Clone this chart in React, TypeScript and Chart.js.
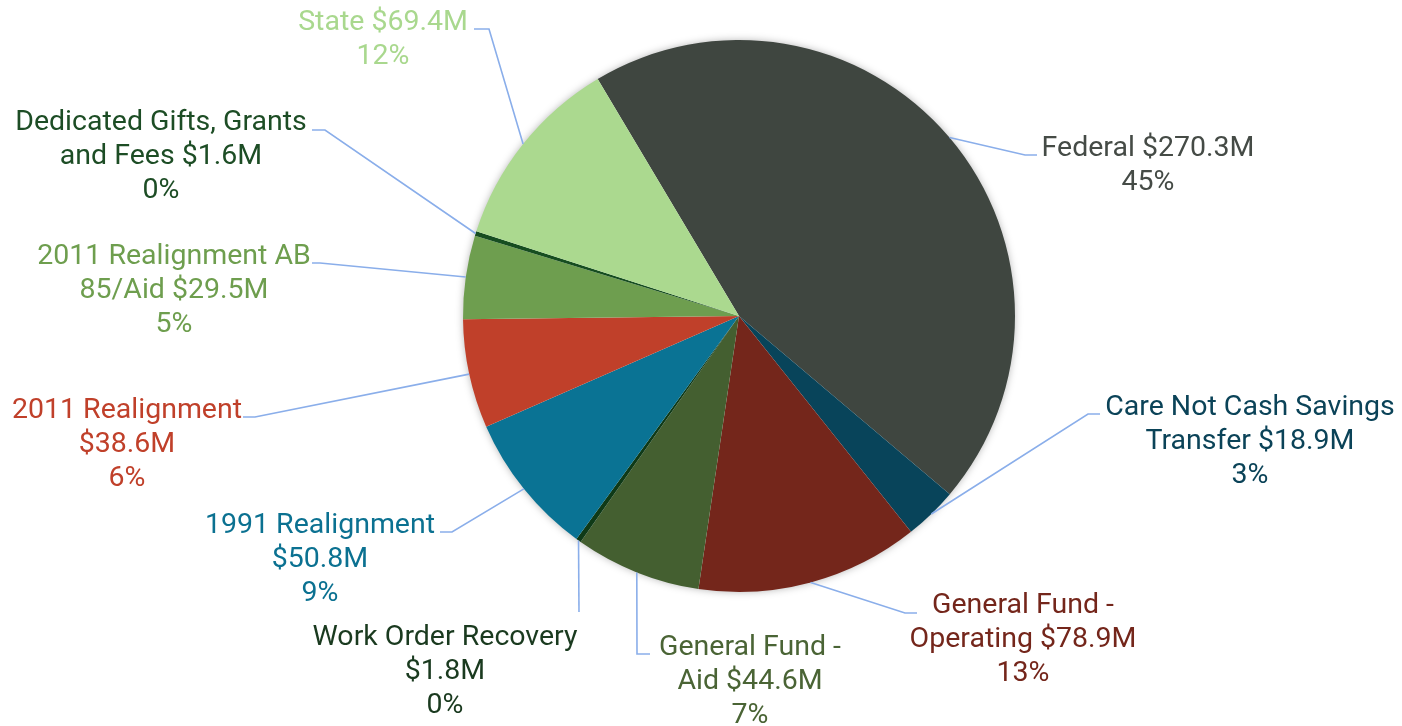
import React, { useEffect, useRef } from "react";
import { Chart, registerables } from "chart.js";

Chart.register(...registerables);

// ---- Data ----
const categories = [
  "Federal",
  "Care Not Cash Savings Transfer",
  "General Fund - Operating",
  "General Fund - Aid",
  "Work Order Recovery",
  "1991 Realignment",
  "2011 Realignment",
  "2011 Realignment AB 85/Aid",
  "Dedicated Gifts, Grants and Fees",
  "State",
];
const valuesM = [270.3, 18.9, 78.9, 44.6, 1.8, 50.8, 38.6, 29.5, 1.6, 69.4];
const percentLabels = ["45%", "3%", "13%", "7%", "0%", "9%", "6%", "5%", "0%", "12%"];
const labelLines = [
  ["Federal $270.3M"],
  ["Care Not Cash Savings", "Transfer $18.9M"],
  ["General Fund -", "Operating $78.9M"],
  ["General Fund -", "Aid $44.6M"],
  ["Work Order Recovery", "$1.8M"],
  ["1991 Realignment", "$50.8M"],
  ["2011 Realignment", "$38.6M"],
  ["2011 Realignment AB", "85/Aid $29.5M"],
  ["Dedicated Gifts, Grants", "and Fees $1.6M"],
  ["State $69.4M"],
];

// ---- Styles ----
const sliceColors = [
  "#3F4640",
  "#08445A",
  "#74261B",
  "#445F30",
  "#0F3A17",
  "#0A7394",
  "#C0402A",
  "#6E9E4F",
  "#164D20",
  "#ABD98F",
];
const textColors = [
  "#454B46",
  "#0B4358",
  "#74261B",
  "#4A6435",
  "#1A3A1F",
  "#0B7191",
  "#C0402A",
  "#6E9E4E",
  "#1D4D25",
  "#A9D88E",
];

// label layout: text center x, first-line center y, elbow point, line end (next to text)
const labelLayout = [
  { tx: 1148, ty: 149, elbow: [1025, 155], end: [1037, 155] },
  { tx: 1250, ty: 408, elbow: [1088, 414], end: [1100, 414] },
  { tx: 1023, ty: 606, elbow: [905, 613], end: [917, 613] },
  { tx: 750, ty: 648, elbow: [637, 654], end: [650, 654] },
  { tx: 445, ty: 638, elbow: [579, 612], end: [579, 612] },
  { tx: 320, ty: 526, elbow: [452, 532], end: [440, 532] },
  { tx: 127, ty: 411, elbow: [255, 417], end: [243, 417] },
  { tx: 174, ty: 257, elbow: [320, 263], end: [312, 263] },
  { tx: 161, ty: 123, elbow: [325, 130], end: [312, 130] },
  { tx: 383, ty: 23, elbow: [489, 29], end: [474, 29] },
];

const FONT = "28.5px Roboto";
const LINE_H = 34;
const LEADER = "#8AAEEA";

const pieLabelPlugin = {
  id: "pieLabels",
  beforeDatasetsDraw(chart: any) {
    const ctx = chart.ctx;
    const meta = chart.getDatasetMeta(0);
    if (!meta.data.length) return;
    const p = meta.data[0].getProps(["x", "y", "outerRadius"], true);
    ctx.save();
    ctx.shadowColor = "rgba(0,0,0,0.35)";
    ctx.shadowBlur = 9;
    ctx.fillStyle = "#ffffff";
    ctx.beginPath();
    ctx.arc(p.x, p.y, p.outerRadius - 1, 0, Math.PI * 2);
    ctx.fill();
    ctx.restore();
  },
  afterDatasetsDraw(chart: any) {
    const ctx = chart.ctx;
    const meta = chart.getDatasetMeta(0);
    meta.data.forEach((arc: any, i: number) => {
      const p = arc.getProps(["x", "y", "startAngle", "endAngle", "outerRadius"], true);
      const mid = (p.startAngle + p.endAngle) / 2;
      const ex = p.x + Math.cos(mid) * p.outerRadius;
      const ey = p.y + Math.sin(mid) * p.outerRadius;
      const L = labelLayout[i];
      ctx.save();
      ctx.strokeStyle = LEADER;
      ctx.lineWidth = 1.6;
      ctx.beginPath();
      ctx.moveTo(ex, ey);
      ctx.lineTo(L.elbow[0], L.elbow[1]);
      ctx.lineTo(L.end[0], L.end[1]);
      ctx.stroke();
      ctx.fillStyle = textColors[i];
      ctx.font = FONT;
      ctx.textAlign = "center";
      ctx.textBaseline = "middle";
      const lines = [...labelLines[i], percentLabels[i]];
      lines.forEach((t, k) => ctx.fillText(t, L.tx, L.ty + k * LINE_H));
      ctx.restore();
    });
  },
};

export default function App() {
  const ref = useRef<HTMLCanvasElement | null>(null);
  useEffect(() => {
    if (!ref.current) return;
    const chart = new Chart(ref.current, {
      type: "pie",
      data: {
        labels: categories,
        datasets: [
          {
            data: valuesM,
            backgroundColor: sliceColors,
            borderWidth: 0,
          },
        ],
      },
      options: {
        responsive: false,
        animation: false,
        rotation: -30.8,
        layout: { padding: { left: 463, right: 387, top: 40, bottom: 134 } },
        plugins: {
          legend: { display: false },
          tooltip: { enabled: false },
          title: { display: false },
        },
      },
      plugins: [pieLabelPlugin],
    });
    return () => chart.destroy();
  }, []);
  return (
    <div style={{ position: "absolute", left: 0, top: 0, width: 1402, height: 726, background: "#fff" }}>
      <canvas ref={ref} width={1402} height={726} />
    </div>
  );
}
